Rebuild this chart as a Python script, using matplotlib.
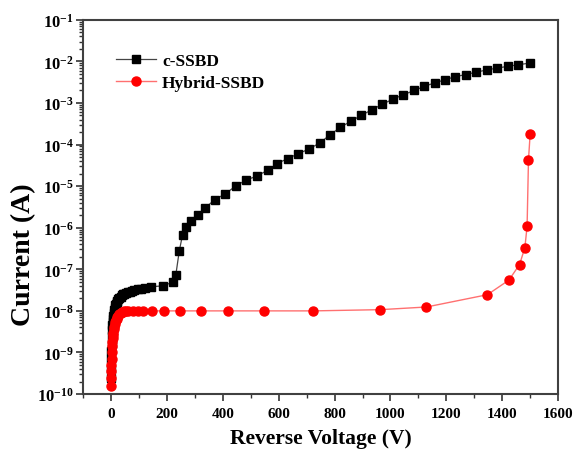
import matplotlib
matplotlib.use("Agg")
import matplotlib.pyplot as plt
from matplotlib.ticker import LogLocator, FixedLocator, NullFormatter, FuncFormatter

plt.rcParams['font.family'] = ['Liberation Serif', 'DejaVu Serif']
plt.rcParams['mathtext.fontset'] = 'custom'
plt.rcParams['mathtext.rm'] = 'Liberation Serif:bold'
plt.rcParams['mathtext.bf'] = 'Liberation Serif:bold'
plt.rcParams['mathtext.it'] = 'Liberation Serif:bold'

# c-SSBD data
c_v = [0, 0.5, 1, 1.5, 2, 3, 4, 5, 6, 7, 8, 10, 12, 14, 16, 18, 20, 23, 26, 30,
       34, 38, 43, 48, 54, 60, 67, 75, 84, 95, 107, 120, 143, 185, 222, 232, 244,
       256, 268, 286, 310, 337, 371, 408, 446, 483, 521, 560, 595, 632, 670, 708,
       748, 783, 821, 860, 895, 934, 971, 1008, 1046, 1085, 1121, 1158, 1195,
       1232, 1269, 1306, 1344, 1382, 1420, 1458, 1498]
c_i = [2.5e-10, 4e-10, 7e-10, 1.1e-9, 1.6e-9, 2.5e-9, 3.5e-9, 4.5e-9, 5.5e-9,
       6.5e-9, 7.5e-9, 9e-9, 1.05e-8, 1.2e-8, 1.35e-8, 1.5e-8, 1.6e-8, 1.75e-8,
       1.9e-8, 2.05e-8, 2.2e-8, 2.35e-8, 2.5e-8, 2.6e-8, 2.7e-8, 2.8e-8, 2.9e-8,
       3.0e-8, 3.1e-8, 3.3e-8, 3.45e-8, 3.6e-8, 3.8e-8, 4.0e-8, 4.9e-8, 7.4e-8,
       2.7e-7, 6.8e-7, 1.02e-6, 1.48e-6, 2.07e-6, 3.0e-6, 4.7e-6, 6.5e-6, 1.0e-5,
       1.4e-5, 1.73e-5, 2.4e-5, 3.5e-5, 4.6e-5, 6.0e-5, 7.8e-5, 1.1e-4, 1.7e-4,
       2.6e-4, 3.7e-4, 5.0e-4, 6.9e-4, 9.3e-4, 1.23e-3, 1.57e-3, 2.0e-3, 2.5e-3,
       3.04e-3, 3.6e-3, 4.3e-3, 4.8e-3, 5.5e-3, 6.2e-3, 6.9e-3, 7.6e-3, 8.3e-3,
       9.1e-3]

# Hybrid-SSBD data
h_v = [0, 0.5, 1, 1.5, 2, 3, 4, 5, 6, 7, 8, 10, 12, 14, 16, 18, 20, 23, 26, 30,
       34, 38, 43, 48, 54, 60, 80, 97, 115, 145, 190, 248, 321, 420, 548, 724,
       964, 1129, 1347, 1424, 1462, 1481, 1489, 1494, 1500]
h_i = [1.6e-10, 2.5e-10, 3.5e-10, 5e-10, 7e-10, 1.0e-9, 1.4e-9, 1.8e-9, 2.2e-9,
       2.6e-9, 3.0e-9, 3.6e-9, 4.2e-9, 4.8e-9, 5.4e-9, 6.0e-9, 6.5e-9, 7.1e-9,
       7.7e-9, 8.3e-9, 8.8e-9, 9.2e-9, 9.5e-9, 9.7e-9, 9.85e-9, 9.95e-9, 1.0e-8,
       1.0e-8, 1.0e-8, 1.0e-8, 1.0e-8, 1.0e-8, 1.0e-8, 1.0e-8, 1.0e-8, 1.0e-8,
       1.07e-8, 1.24e-8, 2.45e-8, 5.5e-8, 1.3e-7, 3.3e-7, 1.07e-6, 4.3e-5, 1.8e-4]

x_ticks = [0, 200, 400, 600, 800, 1000, 1200, 1400, 1600]
x_minor = [-100, 100, 300, 500, 700, 900, 1100, 1300, 1500]

fig = plt.figure(figsize=(5.73, 4.52), dpi=100)
ax = fig.add_axes([0.145, 0.126, 0.829, 0.828])

ax.plot(c_v, c_i, color='#444444', lw=0.9, marker='s', ms=5.8,
        mfc='black', mec='black', label='c-SSBD')
ax.plot(h_v, h_i, color='#ff7070', lw=1.0, marker='o', ms=6.5,
        mfc='red', mec='red', label='Hybrid-SSBD')

ax.set_yscale('log')
ax.set_xlim(-100, 1600)
ax.set_ylim(1e-10, 1e-1)

ax.xaxis.set_major_locator(FixedLocator(x_ticks))
ax.xaxis.set_minor_locator(FixedLocator(x_minor))
ax.yaxis.set_major_locator(LogLocator(base=10, numticks=20))
ax.yaxis.set_minor_locator(LogLocator(base=10, subs=range(2, 10), numticks=20))
ax.yaxis.set_minor_formatter(NullFormatter())

def yfmt(v, pos):
    import math
    e = int(round(math.log10(v)))
    return r'$\mathbf{10^{%d}}$' % e
ax.yaxis.set_major_formatter(FuncFormatter(yfmt))

ax.tick_params(axis='both', which='major', direction='out', length=5, width=1.2,
               colors='#333333', labelcolor='black')
ax.tick_params(axis='y', which='major', labelsize=12, pad=1.5)
ax.tick_params(axis='x', which='major', labelsize=11, pad=4)
ax.tick_params(axis='both', which='minor', direction='out', length=3, width=1.0,
               colors='#333333')
for lab in ax.get_xticklabels():
    lab.set_fontweight('bold')

for s in ax.spines.values():
    s.set_color('#404040')
    s.set_linewidth(1.5)

ax.set_xlabel('Reverse Voltage (V)', fontsize=15.5, fontweight='bold', labelpad=6)
ax.set_ylabel('Current (A)', fontsize=20, fontweight='bold')
ax.yaxis.set_label_coords(-0.098, 0.374)

leg = ax.legend(loc='upper left', bbox_to_anchor=(0.055, 0.93), frameon=False,
                prop={'weight': 'bold', 'size': 12.5}, handlelength=2.3,
                handletextpad=0.35, labelspacing=0.35, borderaxespad=0)

fig.savefig('out.png', dpi=100)
